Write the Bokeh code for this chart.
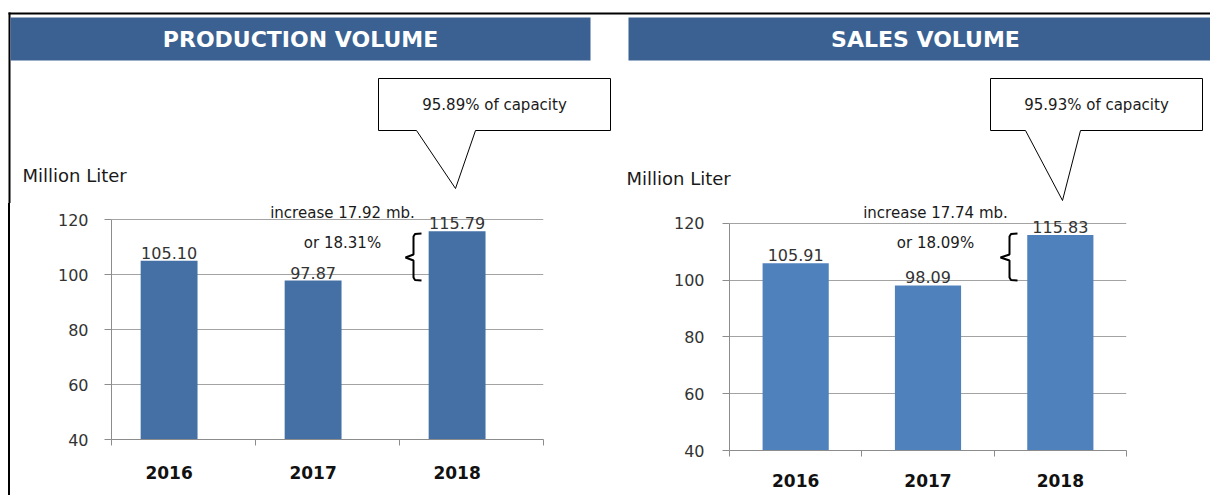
from bokeh.plotting import figure
from bokeh.layouts import row, column
from bokeh.models import (ColumnDataSource, LabelSet, Label, FixedTicker, Range1d, Spacer)
from bokeh.embed import file_html
from bokeh.resources import INLINE
from bokeh.core.properties import value

# ---------------- data ----------------
years = ["2016", "2017", "2018"]
production = [105.10, 97.87, 115.79]
sales = [105.91, 98.09, 115.83]
production_labels = ["105.10", "97.87", "115.79"]
sales_labels = ["105.91", "98.09", "115.83"]
y_ticks = [40, 60, 80, 100, 120]
panel_titles = ["PRODUCTION VOLUME", "SALES VOLUME"]
capacity_notes = ["95.89% of capacity", "95.93% of capacity"]
increase_notes = ["increase 17.92 mb.", "increase 17.74 mb."]
percent_notes = ["or 18.31%", "or 18.09%"]
unit_label = "Million Liter"

FONT = "DejaVu Sans"
TOTAL_W, TOTAL_H = 1210, 495
SPLIT = 203           # height of the decoration strip on top
CHART_H = TOTAL_H - SPLIT
HEADER_COLOR = "#3a6192"
TEXT = "#1a1a1a"


def blank_fig(w, h, x0):
    p = figure(width=w, height=h, x_range=Range1d(x0, x0 + w),
               y_range=Range1d(h, 0), min_border=0,
               x_axis_location=None, y_axis_location=None,
               toolbar_location=None, output_backend="svg")
    p.grid.grid_line_color = None
    p.outline_line_color = None
    p.background_fill_color = "white"
    p.border_fill_color = "white"
    return p


# ---------------- decoration strip (headers, call-outs, units) ----------------
top = blank_fig(TOTAL_W, SPLIT, 0)
top.quad(left=[8, 8], right=[TOTAL_W, 10], top=[12, 12], bottom=[14, SPLIT],
         fill_color="black", line_color=None)

headers = [dict(l=10, r=590, cx=300), dict(l=628, r=TOTAL_W, cx=925)]
callouts = [dict(bl=378, br=610, bt=78, bb=130, pl=416, pa=455, pr=475, ay=188),
            dict(bl=990, br=1202, bt=78, bb=130, pl=1025, pa=1062, pr=1080, ay=200)]
units = [(22, 175), (626, 178)]

for i in range(2):
    h = headers[i]
    top.quad(left=h["l"], right=h["r"], top=17, bottom=60,
             fill_color=HEADER_COLOR, line_color=None)
    top.add_layout(Label(x=h["cx"], y=38.5, text=panel_titles[i],
                         text_align="center", text_baseline="middle",
                         text_color="white", text_font=FONT,
                         text_font_style="bold", text_font_size="22px"))
    c = callouts[i]
    xs = [c["bl"], c["br"], c["br"], c["pr"], c["pa"], c["pl"], c["bl"]]
    ys = [c["bt"], c["bt"], c["bb"], c["bb"], c["ay"], c["bb"], c["bb"]]
    top.patch(xs, ys, fill_color="white", line_color="black", line_width=1)
    top.add_layout(Label(x=(c["bl"] + c["br"]) / 2, y=(c["bt"] + c["bb"]) / 2,
                         text=capacity_notes[i], text_align="center",
                         text_baseline="middle", text_font=FONT,
                         text_font_size="15px", text_color=TEXT))
    ux, uy = units[i]
    top.add_layout(Label(x=ux, y=uy, text=unit_label, text_align="left",
                         text_baseline="middle", text_font=FONT,
                         text_font_size="18px", text_color=TEXT))


# ---------------- bar charts ----------------
def make_chart(cfg):
    n = len(cfg["values"])
    pos = list(range(n))
    off = cfg["offset"]
    bounds = [i - off for i in range(n + 1)]
    x0, x1 = bounds[0], bounds[-1]
    px0, W = cfg["page_x0"], cfg["width"]
    FL, FR, y120, y40 = cfg["FL"], cfg["FR"], cfg["y120"], cfg["y40"]
    ppu = (y40 - y120) / 80.0
    y_top = 120 + (y120 - SPLIT) / ppu
    fh = y40 - SPLIT

    def X(px):
        return x0 + (px - FL) / (FR - FL) * (x1 - x0)

    def Y(py):
        return 120 - (py - y120) / ppu

    p = figure(width=W, height=CHART_H,
               x_range=Range1d(x0, x1), y_range=Range1d(40, y_top),
               min_border_left=FL - px0, min_border_right=W - (FR - px0),
               min_border_top=0, min_border_bottom=CHART_H - fh,
               toolbar_location=None, output_backend="svg")
    p.outline_line_color = None
    p.background_fill_color = "white"
    p.border_fill_color = "white"

    src = ColumnDataSource(dict(x=pos, top=cfg["values"], lab=cfg["labels"]))
    p.vbar(x="x", top="top", bottom=40, width=cfg["bar_w"], source=src,
           fill_color=cfg["bar_color"], line_color=None)

    p.xgrid.grid_line_color = None
    p.ygrid.grid_line_color = "#a3a3a3"
    p.ygrid.grid_line_width = 1
    p.yaxis.ticker = FixedTicker(ticks=y_ticks)
    p.yaxis.bounds = (40, 120)
    p.yaxis.axis_line_color = "#8c8c8c"
    p.yaxis.major_tick_line_color = "#8c8c8c"
    p.yaxis.major_tick_out = 7
    p.yaxis.major_tick_in = 0
    p.yaxis.minor_tick_line_color = None
    p.yaxis.major_label_standoff = cfg["ystand"]
    p.yaxis.major_label_text_font = FONT
    p.yaxis.major_label_text_font_size = "16px"
    p.yaxis.major_label_text_color = "#333333"

    p.xaxis.ticker = FixedTicker(ticks=pos, minor_ticks=bounds)
    p.xaxis.major_label_overrides = {i: years[i] for i in pos}
    p.xaxis.axis_line_color = "#8c8c8c"
    p.xaxis.major_tick_line_color = None
    p.xaxis.major_tick_out = 0
    p.xaxis.major_tick_in = 0
    p.xaxis.minor_tick_line_color = "#8c8c8c"
    p.xaxis.minor_tick_out = 6
    p.xaxis.minor_tick_in = 0
    p.xaxis.major_label_standoff = cfg["xstand"]
    p.xaxis.major_label_text_font = FONT
    p.xaxis.major_label_text_font_style = "bold"
    p.xaxis.major_label_text_font_size = "17px"
    p.xaxis.major_label_text_color = "#111111"

    p.add_layout(LabelSet(x="x", y="top", text="lab", source=src,
                          text_align="center", text_baseline="alphabetic",
                          y_offset=2, text_font=value(FONT),
                          text_font_size="16px", text_color="#333333"))

    ncx = cfg["note_cx"]
    p.add_layout(Label(x=X(ncx), y=Y(212), text=cfg["inc"], text_align="center",
                       text_baseline="middle", text_font=FONT,
                       text_font_size="15px", text_color=TEXT))
    p.add_layout(Label(x=X(ncx), y=Y(242), text=cfg["pct"], text_align="center",
                       text_baseline="middle", text_font=FONT,
                       text_font_size="15px", text_color=TEXT))

    bx, tip, hook = cfg["brace"]
    bxs = [hook, bx + 1.5, bx, bx, tip, bx, bx, bx + 1.5, hook]
    bys = [233, 233.5, 236, 254, 257, 260, 277, 279.5, 280]
    p.line([X(v) for v in bxs], [Y(v) for v in bys], line_color="black",
           line_width=2)
    return p


left = make_chart(dict(
    values=production, labels=production_labels, offset=0.4, bar_w=0.395,
    page_x0=10, width=610, FL=111, FR=543, y120=219.3, y40=439,
    bar_color="#4470a6", ystand=16, xstand=20,
    note_cx=342, inc=increase_notes[0], pct=percent_notes[0],
    brace=(413, 405, 421),
))

right = make_chart(dict(
    values=sales, labels=sales_labels, offset=0.5, bar_w=0.5,
    page_x0=620, width=590, FL=729, FR=1126, y120=222.7, y40=450,
    bar_color="#4f81bd", ystand=18, xstand=17,
    note_cx=935, inc=increase_notes[1], pct=percent_notes[1],
    brace=(1009, 1000, 1017),
))

gap = Spacer(width=8, height=CHART_H)
border = Spacer(width=2, height=CHART_H, styles={"background-color": "black"})
bottom = row(gap, border, column(left), column(right), spacing=0)
layout = column(top, bottom, spacing=0)
open("out.html", "w").write(file_html(layout, INLINE))
